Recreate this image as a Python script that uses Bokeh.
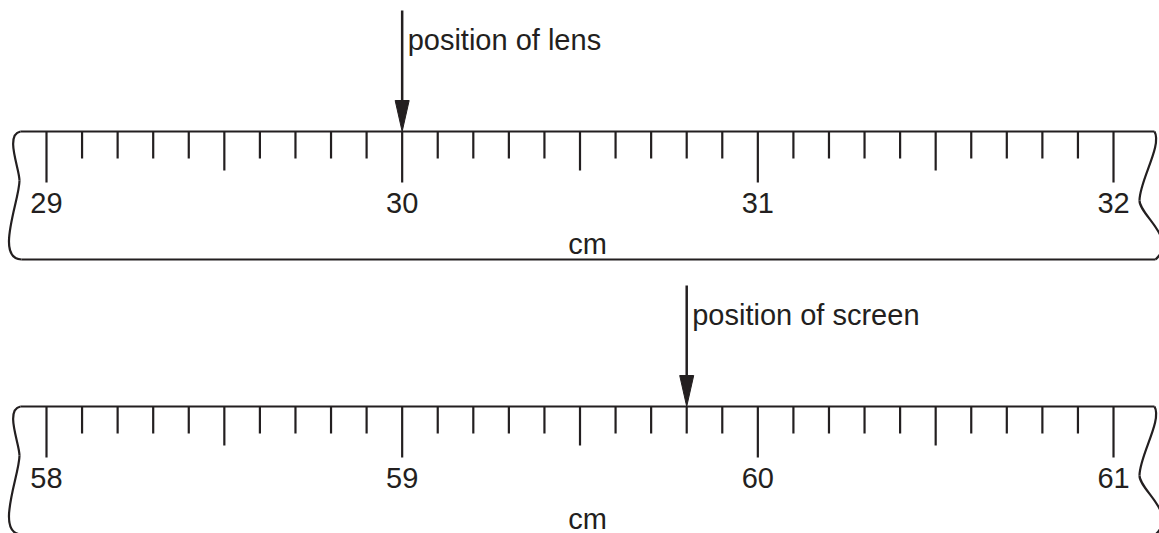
import numpy as np
from bokeh.plotting import figure
from bokeh.models import Range1d
from bokeh.core.properties import value
from bokeh.embed import file_html
from bokeh.resources import INLINE

# ---------------- data ----------------
top_labels = [29, 30, 31, 32]            # cm labels on upper ruler
bottom_labels = [58, 59, 60, 61]         # cm labels on lower ruler
lens_position = 30.0                     # cm
screen_position = 59.8                   # cm
arrow_texts = ["position of lens", "position of screen"]
unit_label = "cm"

# ---------------- layout constants (image pixels) ----------------
PX_PER_CM = 355.67
X_FIRST = 46.0          # x of the first labelled tick
W, H = 1159, 533
INK = "#231f20"
FONT = value("Liberation Sans")
FSIZE = value("29px")
TXT_DY = -8.0

def off(xpx):
    """image pixel x -> ruler offset in cm from first label"""
    return (xpx - X_FIRST) / PX_PER_CM

p = figure(width=W, height=H, output_backend="svg", toolbar_location=None,
           x_range=Range1d(off(0), off(W)),
           y_range=Range1d(H, 0),
           x_axis_type=None, y_axis_type=None, min_border=0)
p.grid.visible = False
p.outline_line_color = None
p.background_fill_color = "white"
p.border_fill_color = "white"

rulers = [
    dict(labels=top_labels, marker=lens_position, text=arrow_texts[0], top=131.0),
    dict(labels=bottom_labels, marker=screen_position, text=arrow_texts[1], top=406.0),
]
RULER_H = 128.0
MINOR, HALF, MAJOR = 27.0, 39.0, 51.0

for r in rulers:
    labels = r["labels"]
    start = labels[0]
    top = r["top"]
    bot = top + RULER_H
    n = int(round((labels[-1] - start) * 10))
    idx = np.arange(n + 1)
    xs = idx / 10.0
    lens = np.where(idx % 10 == 0, MAJOR, np.where(idx % 5 == 0, HALF, MINOR))
    p.segment(x0=xs, x1=xs, y0=np.full_like(xs, top), y1=top + lens,
              line_color=INK, line_width=2.2)

    # top and bottom edges
    p.segment(x0=[off(20), off(21)], x1=[off(1154), off(1155)],
              y0=[top, bot], y1=[top, bot], line_color=INK, line_width=2.2)

    # wavy torn edges
    d = top - 131.0
    p.bezier(x0=[off(20), off(19), off(1154), off(1139)],
             y0=[131 + d, 180 + d, 131 + d, 200 + d],
             x1=[off(19), off(21), off(1139), off(1155)],
             y1=[180 + d, 259 + d, 200 + d, 259 + d],
             cx0=[off(4), off(19), off(1162), off(1139)],
             cy0=[134 + d, 200 + d, 145 + d, 215 + d],
             cx1=[off(19), off(-6), off(1139), off(1178)],
             cy1=[168 + d, 258 + d, 180 + d, 238 + d],
             line_color=INK, line_width=2.2)

    # cm labels
    p.text(x=[l - start for l in labels], y=[top + 79 + TXT_DY] * len(labels),
           text=[str(l) for l in labels], text_font=FONT, text_font_size=FSIZE,
           text_align="center", text_baseline="alphabetic", text_color=INK)
    p.text(x=[off(587)], y=[top + 120 + TXT_DY], text=[unit_label], text_font=FONT,
           text_font_size=FSIZE, text_align="center", text_baseline="alphabetic",
           text_color=INK)

    # arrow
    m = r["marker"] - start
    p.segment(x0=[m], x1=[m], y0=[top - 121], y1=[top - 30],
              line_color=INK, line_width=2.5)
    hw = 7.0 / PX_PER_CM
    p.patch(x=[m - hw, m + hw, m], y=[top - 31, top - 31, top],
            fill_color=INK, line_color=INK, line_width=1)
    p.text(x=[m + 5.5 / PX_PER_CM], y=[top - 84 + TXT_DY], text=[r["text"]],
           text_font=FONT, text_font_size=FSIZE, text_align="left",
           text_baseline="alphabetic", text_color=INK)

open("out.html", "w").write(file_html(p, INLINE))
